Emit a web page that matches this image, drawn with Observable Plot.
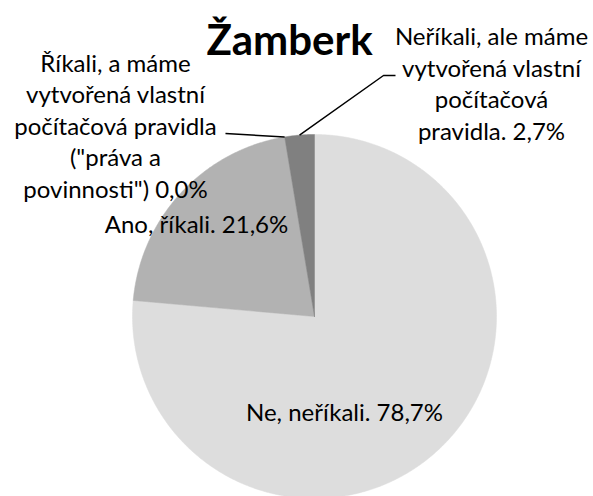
<!DOCTYPE html>
<html><head><meta charset="utf-8">
<script src="https://cdn.jsdelivr.net/npm/d3@7"></script>
<script src="https://cdn.jsdelivr.net/npm/@observablehq/plot@0.6"></script>
<style>html,body{margin:0;padding:0;background:#fff;} svg{display:block}</style>
</head><body><div id="chart"></div>
<script>
// ---- data ----
const title = "Žamberk";
const categories = [
  "Ne, neříkali.",
  "Ano, říkali.",
  "Říkali, a máme vytvořená vlastní počítačová pravidla (\"práva a povinnosti\")",
  "Neříkali, ale máme vytvořená vlastní počítačová pravidla."
];
const values = [78.7, 21.6, 0.0, 2.7];
// wrapped label text (value appended in code)
const labelLines = [
  "Ne, neříkali.",
  "Ano, říkali.",
  "Říkali, a máme\nvytvořená vlastní\npočítačová pravidla\n(\"práva a\npovinnosti\")",
  "Neříkali, ale máme\nvytvořená vlastní\npočítačová\npravidla."
];
const colors = ["#dddddd", "#b2b2b2", "#999999", "#808080"];

// ---- layout ----
const W = 593, H = 496;
const cx = 314, cy = 316, r = 182;
const labelFont = 24, lineH = 31.5;
const labelPos = [
  {x: 344, y: 420},
  {x: 196, y: 232},
  {x: 115, y: 197},
  {x: 491, y: 139}
];
// leader anchor at label side: [points from label toward pie]
const leaderLabelSide = [null, null, [[225, 133]], [[395, 75], [383, 75]]];
// where leader touches pie: 0 = slice start edge, 0.5 = mid
const leaderFrac = [null, null, 0.5, 0.5];

const fmt = v => d3.format(".1f")(v).replace(".", ",") + "%";
const arcs = d3.pie().sort(null).value(d => d)(values);
const pt = (a, rr) => ({x: cx + rr * Math.sin(a), y: cy - rr * Math.cos(a)});

// slice polygons
const slicePts = [];
arcs.forEach((a, i) => {
  if (a.endAngle - a.startAngle <= 0) return;
  const cat = categories[i];
  slicePts.push({...pt(0, 0), cat});
  const n = Math.max(2, Math.ceil((a.endAngle - a.startAngle) / (Math.PI / 360)));
  for (let k = 0; k <= n; k++) {
    const ang = a.startAngle + (a.endAngle - a.startAngle) * k / n;
    slicePts.push({...pt(ang, r), cat});
  }
  slicePts.push({...pt(0, 0), cat});
});

// leader lines
const leaderPts = [];
arcs.forEach((a, i) => {
  if (!leaderLabelSide[i]) return;
  leaderLabelSide[i].forEach(([x, y]) => leaderPts.push({x, y, g: i}));
  const ang = a.startAngle + (a.endAngle - a.startAngle) * leaderFrac[i];
  leaderPts.push({...pt(ang, r), g: i});
});

const labels = arcs.map((a, i) => ({
  x: labelPos[i].x, y: labelPos[i].y,
  text: labelLines[i] + (labelLines[i].includes("\n") ? " " : " ") + fmt(values[i])
}));

const chart = Plot.plot({
  width: W, height: H, margin: 0,
  x: {domain: [0, W], range: [0, W], axis: null},
  y: {domain: [0, H], range: [0, H], axis: null},
  color: {domain: categories, range: colors},
  style: {fontFamily: "Lato, 'Open Sans', sans-serif", background: "white", overflow: "hidden"},
  marks: [
    Plot.line(slicePts, {x: "x", y: "y", z: "cat", fill: "cat", stroke: "cat", strokeWidth: 0.5, curve: "linear"}),
    Plot.line(leaderPts, {x: "x", y: "y", z: "g", stroke: "black", strokeWidth: 1.5, strokeLinecap: "butt"}),
    Plot.text(labels, {x: "x", y: "y", text: "text", fontSize: labelFont, lineHeight: lineH / labelFont,
      lineAnchor: "bottom", textAnchor: "middle", fill: "black"}),
    Plot.text([{x: 289, y: 54, t: title}], {x: "x", y: "y", text: "t", fontSize: 42, fontWeight: "bold",
      lineAnchor: "bottom", textAnchor: "middle", fill: "black"})
  ]
});
document.getElementById("chart").appendChild(chart);
</script>
</body></html>
